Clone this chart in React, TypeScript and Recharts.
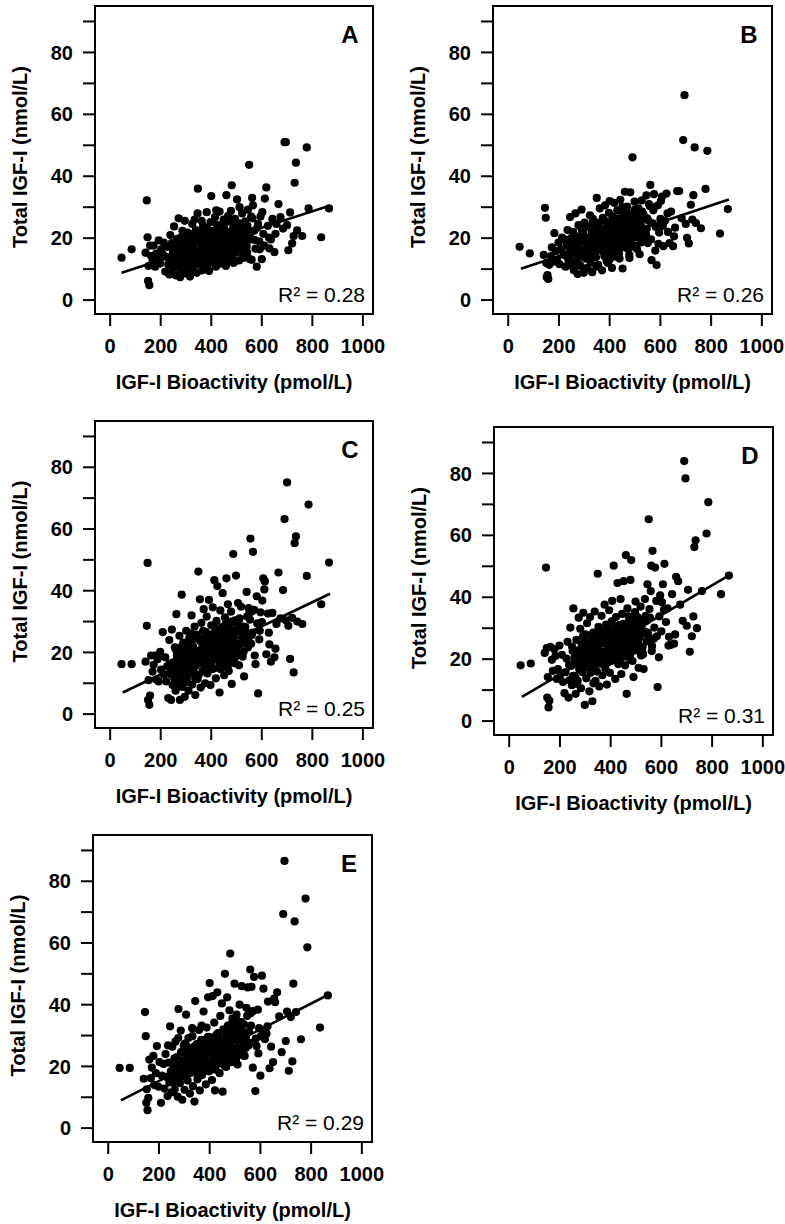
import React from 'react';
import { ScatterChart, Scatter, XAxis, YAxis, ReferenceLine, ReferenceArea } from 'recharts';

// IGF-I bioactivity (pmol/L), shared by all panels
const bioactivity = [
  45, 85, 140, 145, 148, 150, 152, 155, 158, 162,
  168, 172, 178, 182, 188, 192, 198, 202, 208, 212,
  218, 222, 226, 230, 234, 238, 241, 244, 247, 250,
  253, 256, 259, 262, 265, 268, 271, 274, 277, 280,
  283, 286, 289, 292, 295, 298, 301, 304, 307, 310,
  313, 316, 319, 322, 325, 328, 331, 334, 337, 340,
  343, 346, 349, 352, 355, 358, 361, 364, 367, 370,
  373, 376, 379, 382, 385, 388, 391, 394, 397, 400,
  403, 406, 409, 412, 415, 418, 421, 424, 427, 430,
  433, 436, 439, 442, 445, 448, 451, 454, 457, 460,
  463, 466, 469, 472, 475, 478, 481, 484, 487, 490,
  494, 498, 502, 506, 510, 514, 518, 522, 526, 530,
  535, 540, 545, 550, 555, 560, 565, 570, 575, 580,
  585, 590, 595, 600, 606, 612, 618, 624, 630, 636,
  642, 650, 658, 666, 674, 684, 690, 695, 700, 705,
  712, 720, 726, 730, 735, 740, 760, 778, 785, 835,
  866, 236, 248, 261, 276, 291, 303, 318, 332, 347,
  356, 368, 381, 393, 404, 416, 428, 437, 449, 458,
  468, 477, 488, 496, 508, 516, 528, 538, 548, 558,
  266, 284, 297, 311, 324, 338, 351, 363, 377, 389,
  399, 411, 423, 434, 446, 456, 467, 479, 491, 504,
  512, 524, 533, 543, 553, 563, 572, 582, 592, 602,
  270, 288, 306, 326, 344, 362, 384, 402, 420, 440,
  455, 470, 486, 500, 520, 542, 562, 610, 628, 654,
  252, 264, 276, 287, 299, 309, 321, 333, 341, 353,
  359, 366, 374, 383, 390, 396, 405, 413, 419, 426,
  431, 438, 444, 450, 459, 465, 473, 480, 489, 497,
  505, 515, 525, 257, 279, 294, 315, 329, 339, 357,
  371, 380, 387, 398, 407, 414, 422, 429, 435, 443,
  451, 461, 471, 483, 493, 503, 517, 531, 546, 268,
  282, 300, 320, 336, 350, 366, 378, 392, 408, 424,
  436, 452, 466, 480, 495, 510, 527, 308, 395, 447,
];

// Total IGF-I (nmol/L) per panel
const totalIgfA = [
  13.7, 16.4, 15.3, 32.2, 20.3, 6.2, 11.0, 4.8, 17.6, 14.2,
  12.5, 17.6, 10.8, 15.0, 13.2, 19.3, 11.8, 16.4, 14.8, 18.6,
  9.2, 14.0, 17.2, 11.5, 8.3, 21.0, 13.6, 18.4, 10.2, 16.0,
  23.8, 12.2, 8.0, 15.6, 19.8, 10.6, 26.4, 14.1, 7.4, 17.8,
  12.8, 22.4, 9.8, 16.2, 25.6, 13.4, 8.6, 19.2, 15.0, 11.2,
  21.4, 7.6, 17.0, 13.8, 24.6, 10.4, 16.6, 26.0, 12.0, 19.6,
  8.8, 28.0, 14.6, 22.0, 11.4, 18.2, 15.8, 9.6, 24.0, 13.0,
  20.6, 16.8, 11.6, 28.4, 14.4, 22.8, 9.4, 18.0, 25.2, 33.6,
  15.4, 12.4, 21.6, 17.4, 26.8, 10.8, 19.0, 14.8, 23.2, 16.2,
  28.6, 11.8, 20.0, 15.6, 24.4, 18.4, 13.2, 22.6, 17.0, 33.9,
  19.8, 25.8, 12.6, 21.2, 16.4, 28.8, 37.1, 14.6, 23.6, 18.8,
  26.2, 15.8, 32.5, 20.8, 12.8, 24.8, 18.2, 28.0, 13.6, 21.8,
  25.4, 17.2, 29.2, 43.7, 20.2, 13.0, 30.6, 22.4, 16.6, 10.8,
  24.6, 19.0, 27.0, 13.2, 21.4, 32.8, 36.4, 24.0, 16.7, 19.6,
  26.2, 15.5, 24.6, 31.0, 26.8, 23.1, 51.0, 51.0, 24.2, 16.1,
  28.3, 18.3, 20.7, 37.9, 44.4, 22.5, 20.7, 49.3, 29.6, 20.3,
  29.6, 12.0, 15.2, 18.6, 10.0, 14.4, 20.4, 9.0, 16.0, 36.0,
  18.6, 13.6, 16.0, 12.0, 19.8, 15.0, 20.6, 13.8, 26.0, 11.0,
  15.2, 22.0, 12.0, 18.2, 23.6, 16.6, 14.2, 21.0, 19.4, 27.0,
  16.8, 15.4, 18.2, 14.2, 17.8, 20.6, 13.2, 20.8, 12.8, 15.6,
  22.4, 18.8, 11.4, 17.2, 14.0, 21.0, 27.2, 17.8, 12.4, 19.2,
  30.0, 16.0, 20.6, 24.0, 13.2, 26.4, 19.4, 23.4, 16.4, 28.4,
  11.6, 17.0, 21.8, 15.0, 19.2, 25.6, 17.6, 13.2, 29.0, 16.4,
  20.6, 14.0, 25.0, 15.4, 22.2, 15.4, 33.0, 17.6, 20.2, 21.4,
  11.4, 16.8, 13.2, 18.6, 12.6, 17.4, 14.0, 20.2, 11.8, 16.0,
  21.8, 14.2, 18.8, 12.8, 22.0, 15.6, 17.8, 12.6, 20.8, 15.0,
  21.4, 17.6, 13.6, 23.0, 19.8, 15.0, 21.8, 16.2, 20.4, 24.0,
  17.2, 22.4, 19.2, 18.0, 20.2, 11.0, 19.0, 13.0, 22.6, 14.8,
  17.0, 23.2, 19.6, 14.6, 21.2, 17.2, 24.4, 19.8, 15.4, 21.6,
  16.4, 25.2, 19.4, 21.4, 17.6, 23.4, 20.4, 18.4, 22.6, 14.6,
  13.6, 17.0, 19.2, 15.8, 21.0, 14.2, 19.6, 21.8, 16.8, 18.6,
  23.2, 14.8, 18.0, 25.4, 22.6, 19.0, 23.4, 12.8, 16.2, 21.0,
];

const totalIgfB = [
  17.2, 15.1, 14.6, 29.8, 26.6, 12.0, 7.4, 8.1, 6.8, 11.4,
  14.2, 17.0, 12.4, 21.6, 15.8, 13.0, 18.6, 11.6, 16.4, 20.2,
  14.6, 19.6, 10.8, 17.8, 22.6, 12.8, 16.2, 26.8, 11.2, 18.4,
  15.0, 22.0, 9.6, 17.4, 28.0, 12.6, 20.4, 8.4, 24.2, 14.4,
  18.8, 11.0, 29.2, 15.6, 21.8, 8.8, 25.0, 13.4, 19.2, 16.8,
  10.4, 23.6, 17.8, 27.4, 12.2, 20.8, 9.0, 26.2, 15.4, 22.2,
  18.4, 13.8, 33.0, 24.6, 11.4, 20.0, 29.6, 16.2, 22.8, 9.6,
  26.6, 19.0, 14.2, 30.6, 21.4, 12.6, 24.0, 17.4, 28.2, 32.0,
  16.0, 22.6, 10.4, 27.0, 19.4, 31.4, 14.0, 24.8, 18.2, 29.0,
  21.8, 26.4, 13.4, 32.4, 18.8, 23.2, 10.2, 28.6, 20.6, 35.0,
  24.0, 16.8, 30.2, 21.0, 27.6, 13.6, 34.8, 19.8, 25.4, 46.1,
  22.2, 31.8, 17.6, 26.8, 20.4, 29.6, 14.8, 24.0, 32.2, 19.0,
  27.0, 22.6, 33.8, 18.4, 31.0, 37.2, 12.9, 24.8, 34.2, 16.0,
  11.3, 30.6, 21.8, 26.2, 33.4, 17.4, 25.6, 34.4, 22.0, 18.4,
  28.6, 17.4, 23.4, 35.2, 35.2, 26.4, 51.7, 66.2, 24.6, 20.1,
  18.3, 30.8, 26.0, 33.9, 49.3, 24.9, 23.2, 35.9, 48.2, 21.5,
  29.4, 13.6, 20.0, 16.6, 11.8, 22.6, 14.4, 19.0, 24.8, 10.8,
  21.4, 16.0, 25.6, 12.0, 20.4, 17.6, 22.0, 15.2, 30.0, 18.0,
  28.4, 14.6, 20.6, 25.0, 16.4, 22.8, 28.6, 20.0, 26.4, 30.4,
  18.6, 20.6, 16.4, 20.0, 14.8, 17.0, 22.2, 18.6, 15.8, 20.8,
  13.0, 17.0, 21.2, 16.6, 25.4, 19.2, 22.4, 17.0, 21.6, 27.6,
  24.4, 18.6, 27.8, 21.0, 25.6, 19.6, 29.0, 23.6, 18.2, 32.0,
  17.0, 23.4, 19.6, 18.0, 22.4, 16.2, 20.2, 23.8, 20.0, 17.4,
  24.6, 20.8, 18.8, 29.2, 26.6, 21.2, 30.2, 24.0, 28.0, 20.6,
  12.4, 18.2, 14.6, 20.8, 15.0, 19.0, 13.6, 21.6, 16.4, 23.0,
  17.0, 21.4, 15.8, 22.8, 18.4, 24.6, 17.6, 22.2, 15.4, 20.0,
  23.8, 18.6, 26.0, 17.2, 22.4, 25.8, 19.6, 23.0, 27.4, 21.0,
  25.2, 20.6, 23.6, 17.8, 14.0, 20.4, 16.2, 22.0, 18.8, 25.0,
  20.6, 16.8, 23.4, 21.0, 25.6, 18.6, 20.8, 24.4, 16.6, 22.6,
  25.4, 18.4, 23.2, 26.6, 20.2, 24.6, 20.8, 26.0, 23.0, 18.0,
  16.0, 20.4, 13.8, 19.8, 16.6, 23.0, 21.8, 14.6, 23.4, 20.6,
  18.4, 26.8, 22.2, 17.6, 24.2, 27.2, 22.6, 18.0, 21.2, 24.0,
];

const totalIgfC = [
  16.2, 16.2, 17.0, 28.6, 49.0, 4.6, 11.0, 3.0, 6.0, 19.0,
  13.8, 16.0, 19.0, 11.2, 17.8, 10.6, 20.2, 14.4, 26.6, 12.8,
  18.4, 10.6, 15.6, 5.2, 24.0, 13.0, 4.6, 27.4, 9.4, 16.8,
  11.8, 21.6, 7.6, 32.4, 14.2, 9.0, 19.8, 25.4, 12.4, 17.4,
  38.7, 8.8, 23.2, 13.6, 5.6, 20.4, 27.0, 10.4, 16.4, 7.6,
  24.6, 13.4, 18.8, 32.0, 9.6, 22.0, 15.2, 28.4, 6.2, 19.6,
  25.8, 11.4, 46.2, 17.6, 37.2, 8.6, 29.6, 21.4, 14.0, 34.0,
  18.2, 10.0, 26.6, 31.6, 13.2, 22.8, 37.0, 16.4, 9.4, 28.8,
  20.4, 34.6, 14.8, 43.4, 24.0, 11.6, 30.2, 41.5, 17.8, 26.0,
  7.0, 33.6, 21.2, 15.2, 39.2, 26.8, 12.6, 31.4, 19.0, 44.0,
  23.6, 35.6, 14.0, 28.8, 20.4, 33.2, 9.8, 25.0, 51.9, 17.0,
  30.4, 44.9, 22.0, 36.0, 15.8, 27.4, 34.8, 19.6, 24.6, 12.2,
  28.2, 39.6, 21.6, 32.6, 56.9, 25.6, 52.6, 33.8, 16.2, 38.2,
  6.7, 24.2, 33.0, 29.8, 44.0, 43.0, 19.4, 32.6, 22.6, 17.0,
  32.8, 18.4, 29.2, 45.9, 31.0, 40.2, 63.2, 30.4, 75.1, 28.6,
  17.9, 31.2, 13.5, 55.4, 57.6, 30.0, 29.2, 44.8, 67.9, 35.6,
  49.1, 16.4, 12.6, 20.8, 4.6, 15.4, 11.6, 21.6, 13.2, 24.8,
  19.6, 27.0, 15.8, 21.6, 17.2, 27.8, 15.0, 22.6, 18.0, 29.4,
  19.4, 27.2, 21.0, 16.4, 29.6, 23.2, 20.2, 26.2, 34.4, 22.8,
  17.8, 14.8, 17.6, 20.4, 17.2, 19.6, 12.8, 24.4, 19.8, 14.6,
  22.6, 18.2, 21.4, 17.8, 23.2, 17.6, 25.4, 20.6, 22.4, 26.8,
  31.0, 18.6, 27.2, 23.4, 30.6, 26.4, 19.0, 29.4, 27.0, 36.8,
  9.2, 18.2, 13.6, 16.0, 18.6, 20.8, 16.4, 19.0, 22.2, 19.4,
  21.6, 16.2, 23.8, 20.0, 27.6, 31.6, 33.4, 40.4, 26.4, 21.2,
  13.0, 19.0, 15.6, 10.8, 21.8, 14.2, 18.0, 24.4, 12.6, 20.6,
  16.6, 23.2, 13.8, 20.0, 17.4, 25.8, 14.6, 19.8, 27.2, 22.4,
  18.2, 24.8, 20.0, 27.6, 22.2, 16.8, 29.0, 21.4, 25.6, 19.2,
  28.0, 22.6, 25.2, 15.4, 21.0, 12.0, 22.8, 17.8, 15.6, 23.6,
  17.8, 23.6, 19.2, 15.4, 21.8, 26.4, 18.8, 23.4, 16.2, 28.2,
  20.6, 24.2, 18.4, 26.8, 21.6, 29.6, 23.0, 27.6, 24.6, 10.8,
  21.8, 19.4, 26.2, 11.8, 20.4, 16.6, 21.6, 25.0, 18.8, 23.8,
  14.6, 16.8, 21.4, 30.0, 18.6, 22.6, 28.4, 13.8, 19.6, 25.6,
];

const totalIgfD = [
  18.0, 18.6, 22.0, 49.6, 23.6, 7.6, 14.2, 4.4, 6.6, 24.0,
  19.8, 16.2, 23.2, 21.0, 13.6, 16.8, 24.4, 15.0, 21.4, 12.6,
  9.0, 15.8, 20.2, 25.6, 7.6, 13.2, 30.2, 17.8, 11.6, 22.6,
  36.4, 14.6, 19.4, 8.8, 26.2, 12.0, 22.8, 33.4, 17.6, 29.8,
  10.6, 24.6, 15.8, 35.0, 20.4, 5.2, 28.0, 13.8, 31.6, 18.6,
  25.4, 9.6, 33.6, 16.8, 22.2, 6.4, 28.6, 19.0, 35.4, 13.0,
  24.2, 16.0, 47.6, 30.4, 11.2, 26.0, 20.2, 34.0, 14.8, 28.4,
  21.6, 37.6, 17.0, 31.2, 11.8, 26.4, 22.0, 35.8, 15.6, 29.6,
  24.0, 38.8, 19.6, 50.2, 28.4, 13.6, 33.6, 22.4, 44.6, 18.4,
  31.0, 25.6, 39.4, 15.2, 34.6, 23.8, 45.2, 29.2, 18.0, 53.6,
  8.8, 36.4, 26.8, 31.8, 21.2, 45.6, 52.0, 25.0, 33.0, 14.2,
  29.4, 38.6, 22.8, 33.6, 17.2, 26.8, 37.0, 30.6, 24.0, 16.8,
  39.4, 28.6, 44.2, 65.2, 33.4, 50.2, 55.0, 26.6, 49.6, 38.8,
  11.0, 20.6, 40.6, 29.0, 44.2, 50.8, 32.0, 36.4, 27.2, 24.6,
  41.0, 25.0, 46.6, 45.2, 37.6, 32.4, 84.0, 78.4, 30.8, 42.4,
  22.4, 27.4, 33.8, 56.2, 58.4, 30.0, 42.0, 60.6, 70.7, 41.0,
  47.0, 18.2, 24.0, 14.0, 20.6, 27.4, 17.6, 23.8, 12.2, 21.0,
  22.4, 18.4, 27.8, 20.6, 32.2, 21.8, 28.0, 20.0, 31.0, 24.2,
  30.2, 20.0, 27.6, 35.2, 25.4, 31.4, 21.6, 34.0, 27.8, 42.0,
  21.0, 19.2, 23.6, 18.4, 21.4, 24.0, 18.6, 25.6, 20.6, 24.8,
  19.4, 26.0, 27.4, 21.6, 28.0, 23.0, 29.6, 22.0, 26.6, 24.6,
  32.4, 22.6, 28.8, 25.8, 36.2, 24.2, 30.2, 27.4, 33.8, 38.4,
  13.0, 18.6, 23.2, 19.8, 25.2, 21.2, 18.8, 22.0, 26.2, 21.4,
  26.2, 23.0, 19.4, 27.0, 21.2, 32.4, 22.6, 36.0, 24.4, 28.0,
  14.6, 21.6, 16.8, 24.4, 18.0, 22.8, 15.6, 27.6, 19.8, 24.0,
  18.6, 27.2, 21.6, 25.6, 19.0, 28.2, 22.8, 26.4, 20.2, 30.4,
  24.2, 28.8, 22.4, 31.4, 26.2, 21.4, 32.6, 27.2, 23.8, 30.6,
  26.4, 31.8, 28.2, 20.4, 16.4, 25.2, 20.8, 26.8, 18.2, 29.4,
  25.2, 20.8, 29.8, 23.2, 27.0, 21.0, 30.4, 25.8, 29.0, 22.6,
  28.4, 24.0, 33.8, 27.6, 31.6, 25.0, 29.0, 33.0, 28.6, 18.8,
  22.0, 17.4, 24.8, 21.2, 27.8, 19.6, 29.0, 23.4, 21.8, 26.4,
  28.6, 20.8, 26.0, 23.6, 32.2, 27.4, 31.8, 25.6, 23.2, 31.0,
];

const totalIgfE = [
  19.5, 19.5, 16.0, 37.6, 29.8, 8.2, 12.6, 5.8, 9.8, 22.2,
  16.2, 19.6, 23.4, 14.0, 17.8, 26.6, 13.4, 21.4, 8.2, 17.0,
  20.8, 12.8, 24.0, 16.6, 10.4, 21.2, 14.8, 33.0, 18.4, 11.6,
  26.4, 15.6, 20.2, 12.6, 28.0, 17.4, 23.0, 10.2, 38.6, 19.0,
  14.6, 31.6, 22.0, 9.2, 17.6, 26.8, 12.4, 24.2, 36.8, 19.8,
  15.4, 29.2, 21.6, 11.2, 25.8, 18.0, 32.4, 13.6, 22.8, 8.6,
  41.2, 19.8, 27.2, 15.8, 24.4, 31.8, 12.2, 21.4, 28.6, 17.2,
  23.2, 37.8, 18.4, 26.4, 14.2, 32.6, 21.0, 42.4, 25.6, 47.0,
  19.6, 29.4, 15.6, 42.8, 24.8, 34.2, 12.2, 27.6, 21.8, 44.0,
  30.8, 23.4, 17.8, 36.4, 26.2, 40.4, 11.8, 32.0, 22.6, 50.0,
  27.6, 20.8, 42.4, 33.2, 24.4, 38.2, 56.6, 29.0, 21.4, 35.6,
  30.0, 46.8, 25.2, 36.8, 20.6, 31.4, 40.0, 27.4, 46.0, 23.6,
  33.6, 28.2, 39.0, 45.6, 31.2, 51.4, 45.8, 19.6, 49.0, 12.0,
  26.6, 38.4, 32.4, 17.0, 49.4, 45.2, 28.8, 30.6, 41.0, 19.4,
  26.4, 21.4, 40.8, 44.0, 36.2, 24.6, 69.4, 86.6, 28.2, 37.8,
  18.6, 36.0, 21.6, 46.8, 67.0, 37.6, 28.8, 74.4, 58.6, 32.6,
  43.0, 26.8, 16.2, 22.6, 29.2, 18.6, 27.4, 20.4, 29.8, 23.6,
  20.4, 33.2, 24.0, 29.6, 19.8, 26.2, 30.4, 22.6, 27.8, 20.2,
  26.0, 31.8, 23.8, 28.4, 34.6, 25.2, 30.8, 23.4, 36.4, 27.6,
  21.8, 18.2, 24.6, 21.0, 19.4, 23.8, 17.6, 25.8, 20.6, 28.0,
  21.6, 25.8, 19.8, 27.0, 21.2, 28.4, 23.4, 26.2, 30.4, 22.4,
  28.6, 34.4, 24.0, 29.6, 26.8, 33.2, 38.0, 29.0, 24.2, 29.8,
  16.4, 21.2, 17.6, 25.2, 19.6, 23.4, 20.2, 24.8, 19.0, 25.8,
  24.4, 27.6, 33.8, 22.0, 30.2, 26.0, 37.2, 30.8, 33.0, 42.0,
  18.6, 22.4, 16.0, 24.6, 19.4, 26.6, 17.8, 23.6, 20.8, 25.4,
  22.0, 18.6, 25.8, 21.0, 27.8, 19.6, 24.0, 29.0, 22.4, 26.6,
  24.6, 21.2, 28.6, 23.0, 27.0, 19.8, 25.6, 29.4, 23.2, 31.0,
  25.8, 29.2, 32.0, 14.8, 21.6, 19.0, 23.2, 20.6, 26.4, 18.8,
  24.2, 21.8, 27.2, 18.4, 25.6, 22.6, 20.4, 26.8, 24.0, 27.6,
  22.2, 29.6, 25.0, 27.4, 24.8, 32.2, 26.6, 30.0, 27.8, 21.6,
  20.4, 16.8, 22.6, 24.2, 18.8, 27.4, 22.2, 20.4, 27.0, 21.6,
  25.2, 28.2, 22.8, 26.2, 29.6, 24.2, 33.0, 22.2, 19.6, 23.0,
];

// Regression line end points [bioactivity, total IGF-I]
const fitA = [[45, 8.8], [865, 30.4]];
const fitB = [[50, 10.1], [870, 32.5]];
const fitC = [[50, 7.0], [870, 39.0]];
const fitD = [[50, 7.8], [870, 47.2]];
const fitE = [[50, 9.0], [870, 43.3]];

const panelLetters = ['A', 'B', 'C', 'D', 'E'];
const rSquared = ['0.28', '0.26', '0.25', '0.31', '0.29'];
const xTicks = [0, 200, 400, 600, 800, 1000];
const yTicks = [0, 10, 20, 30, 40, 50, 60, 70, 80, 90];
const xTitle = 'IGF-I Bioactivity (pmol/L)';
const yTitle = 'Total IGF-I (nmol/L)';

const FONT = '"Liberation Sans", Arial, Helvetica, sans-serif';
const X_DOMAIN: [number, number] = [-60, 1040];
const Y_DOMAIN: [number, number] = [-4.5, 95];

// plot-box placement on the page
const boxes = [
  { l: 95, t: 6, w: 278, h: 308 },
  { l: 493, t: 6, w: 279, h: 308 },
  { l: 95, t: 421, w: 278, h: 307 },
  { l: 494, t: 427, w: 279, h: 308 },
  { l: 93, t: 835, w: 279, h: 307 },
];

const series = [totalIgfA, totalIgfB, totalIgfC, totalIgfD, totalIgfE];
const fits = [fitA, fitB, fitC, fitD, fitE];

const YW = 95;
const MT = 10;
const MR = 12;
const XH = 90;

const Dot = (p: any) => <circle cx={p.cx} cy={p.cy} r={4.1} fill="#000" />;

function Panel({ idx }: { idx: number }) {
  const b = boxes[idx];
  const ys = series[idx];
  const data = bioactivity.map((x, i) => ({ x, y: ys[i] }));
  const fit = fits[idx];
  const width = YW + b.w + MR;
  const height = MT + b.h + XH;
  const tickStyle = { fill: '#000', fontSize: 20, fontWeight: 700, fontFamily: FONT };
  const ytx = 27;
  const yty = MT + b.h / 2 - 3;
  return (
    <div style={{ position: 'absolute', left: b.l - YW, top: b.t - MT, width, height }}>
      <ScatterChart
        width={width}
        height={height}
        margin={{ top: MT, right: MR, left: 0, bottom: 0 }}
        style={{ overflow: 'visible' }}
      >
        <XAxis
          dataKey="x"
          type="number"
          domain={X_DOMAIN}
          ticks={xTicks}
          interval={0}
          allowDataOverflow
          height={XH}
          tickSize={12}
          tickMargin={13}
          axisLine={{ stroke: '#000', strokeWidth: 2 }}
          tickLine={{ stroke: '#000', strokeWidth: 2 }}
          tick={tickStyle}
        />
        <YAxis
          dataKey="y"
          type="number"
          domain={Y_DOMAIN}
          ticks={yTicks}
          interval={0}
          allowDataOverflow
          width={YW}
          tickSize={12}
          tickMargin={10}
          tickFormatter={(v: number) => (v % 20 === 0 && v <= 80 ? String(v) : '')}
          axisLine={{ stroke: '#000', strokeWidth: 2 }}
          tickLine={{ stroke: '#000', strokeWidth: 2 }}
          tick={tickStyle}
        />
        <ReferenceArea
          x1={X_DOMAIN[0]}
          x2={X_DOMAIN[1]}
          y1={Y_DOMAIN[0]}
          y2={Y_DOMAIN[1]}
          fill="none"
          fillOpacity={0}
          stroke="#000"
          strokeWidth={2}
        />
        <Scatter data={data} fill="#000" shape={Dot} isAnimationActive={false} />
        <ReferenceLine
          segment={[{ x: fit[0][0], y: fit[0][1] }, { x: fit[1][0], y: fit[1][1] }]}
          stroke="#000"
          strokeWidth={2.6}
        />
        <text
          x={ytx}
          y={yty}
          transform={`rotate(-90 ${ytx} ${yty})`}
          textAnchor="middle"
          fontFamily={FONT}
          fontWeight={700}
          fontSize={20}
          fill="#000"
        >
          {yTitle}
        </text>
        <text
          x={YW + b.w / 2}
          y={MT + b.h + 75}
          textAnchor="middle"
          fontFamily={FONT}
          fontWeight={700}
          fontSize={20}
          fill="#000"
        >
          {xTitle}
        </text>
        <text
          x={YW + b.w - 23}
          y={MT + 37}
          textAnchor="middle"
          fontFamily={FONT}
          fontWeight={700}
          fontSize={24}
          fill="#000"
        >
          {panelLetters[idx]}
        </text>
        <text
          x={YW + b.w - 8}
          y={MT + b.h - 12}
          textAnchor="end"
          fontFamily={FONT}
          fontSize={21}
          fill="#000"
        >
          {`R² = ${rSquared[idx]}`}
        </text>
      </ScatterChart>
    </div>
  );
}

export default function App() {
  return (
    <div style={{ position: 'absolute', left: 0, top: 0, width: 785, height: 1224, background: '#fff' }}>
      {boxes.map((_, i) => (
        <Panel key={i} idx={i} />
      ))}
    </div>
  );
}
